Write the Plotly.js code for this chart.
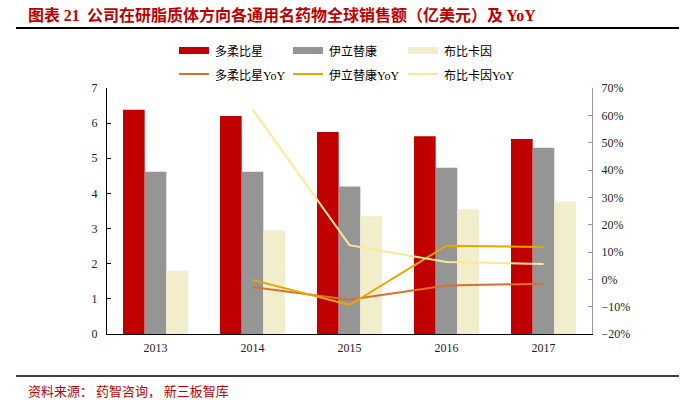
<!DOCTYPE html>
<html><head><meta charset="utf-8">
<script src="https://cdn.plot.ly/plotly-3.0.1.min.js"></script>
<style>html,body{margin:0;padding:0;background:#fff;}#chart{width:696px;height:404px;}</style>
</head><body><div id="chart"></div>
<script>
const years = ['2013','2014','2015','2016','2017'];
const yoyYears = ['2014','2015','2016','2017'];
const doxSales = [6.38, 6.20, 5.75, 5.63, 5.55];
const iriSales = [4.62, 4.62, 4.20, 4.73, 5.30];
const bupSales = [1.80, 2.95, 3.35, 3.55, 3.77];
const doxYoY = [-0.028, -0.075, -0.023, -0.016];
const iriYoY = [-0.002, -0.094, 0.123, 0.118];
const bupYoY = [0.623, 0.125, 0.063, 0.056];
const names = ['多柔比星','伊立替康','布比卡因'];
const barColors = ['#c00000','#959595','#f2eecb'];
const lineColors = ['#d9702e','#e5a800','#fde79a'];

const L=107, R=592, T=88, B=334;
const px = x => (x-L)/(R-L);
const py = y => (B-y)/(B-T);

const serif = 'Liberation Serif, DejaVu Serif, serif';
const cjk = 'Noto Sans CJK SC, sans-serif';

const traces = [
  {type:'bar', x:years, y:doxSales, name:names[0], marker:{color:barColors[0]}},
  {type:'bar', x:years, y:iriSales, name:names[1], marker:{color:barColors[1]}},
  {type:'bar', x:years, y:bupSales, name:names[2], marker:{color:barColors[2]}},
  {type:'scatter', mode:'lines', x:yoyYears, y:doxYoY, name:names[0]+'YoY', yaxis:'y2', line:{color:lineColors[0], width:2}},
  {type:'scatter', mode:'lines', x:yoyYears, y:iriYoY, name:names[1]+'YoY', yaxis:'y2', line:{color:lineColors[1], width:2}},
  {type:'scatter', mode:'lines', x:yoyYears, y:bupYoY, name:names[2]+'YoY', yaxis:'y2', line:{color:lineColors[2], width:2}}
];

const shapes = [
  {type:'line', xref:'paper', yref:'paper', x0:px(16), x1:px(679), y0:py(28), y1:py(28), line:{color:'#000', width:2}},
  {type:'line', xref:'paper', yref:'paper', x0:px(16), x1:px(679), y0:py(376), y1:py(376), line:{color:'#000', width:1.5}}
];
const annotations = [
  {xref:'paper', yref:'paper', x:px(26), y:py(14), xanchor:'left', yanchor:'middle', showarrow:false,
   text:'<b>图表 <span style="font-family:Liberation Serif">21</span>  公司在研脂质体方向各通用名药物全球销售额（亿美元）及 <span style="font-family:Liberation Serif">YoY</span></b>', font:{family:cjk, size:16, color:'#c00000'}},
  {xref:'paper', yref:'paper', x:px(26), y:py(390), xanchor:'left', yanchor:'middle', showarrow:false,
   text:'资料来源： 药智咨询， 新三板智库', font:{family:cjk, size:13, color:'#c00000'}}
];
const legX = [179, 293, 408];
for (let i=0;i<3;i++){
  shapes.push({type:'rect', xref:'paper', yref:'paper', x0:px(legX[i]), x1:px(legX[i]+30), y0:py(47), y1:py(54), fillcolor:barColors[i], line:{width:0}});
  shapes.push({type:'line', xref:'paper', yref:'paper', x0:px(legX[i]), x1:px(legX[i]+30), y0:py(74), y1:py(74), line:{color:lineColors[i], width:2}});
  annotations.push({xref:'paper', yref:'paper', x:px(legX[i]+34), y:py(50.5), xanchor:'left', yanchor:'middle', showarrow:false,
    text:names[i], font:{family:cjk, size:12, color:'#000'}});
  annotations.push({xref:'paper', yref:'paper', x:px(legX[i]+34), y:py(74), xanchor:'left', yanchor:'middle', showarrow:false,
    text:names[i]+'<span style="font-family:Liberation Serif">YoY</span>', font:{family:cjk, size:12, color:'#000'}});
}

const layout = {
  width:696, height:404,
  margin:{l:L, r:696-R, t:T, b:404-B, pad:0},
  paper_bgcolor:'#fff', plot_bgcolor:'#fff',
  showlegend:false,
  barmode:'group', bargap:0.33, bargroupgap:0,
  font:{family:serif, size:12, color:'#222'},
  xaxis:{type:'category', showline:true, linecolor:'#000', linewidth:1, ticks:'', showgrid:false, zeroline:false,
    tickfont:{family:serif, size:12, color:'#222'}, ticklabelstandoff:3},
  yaxis:{range:[0,7], dtick:1, showline:true, linecolor:'#000', linewidth:1, ticks:'inside', ticklen:4, tickcolor:'#000',
    showgrid:false, zeroline:false, tickfont:{family:serif, size:12, color:'#222'}, ticklabelstandoff:6},
  yaxis2:{overlaying:'y', side:'right', range:[-0.2,0.7], dtick:0.1, tickformat:'.0%', showline:true, linecolor:'#999', linewidth:1,
    ticks:'inside', ticklen:4, tickcolor:'#999', showgrid:false, zeroline:false, tickfont:{family:serif, size:12, color:'#222'}, ticklabelstandoff:6},
  shapes:shapes, annotations:annotations
};
Plotly.newPlot('chart', traces, layout, {staticPlot:true, displayModeBar:false});
</script></body></html>
